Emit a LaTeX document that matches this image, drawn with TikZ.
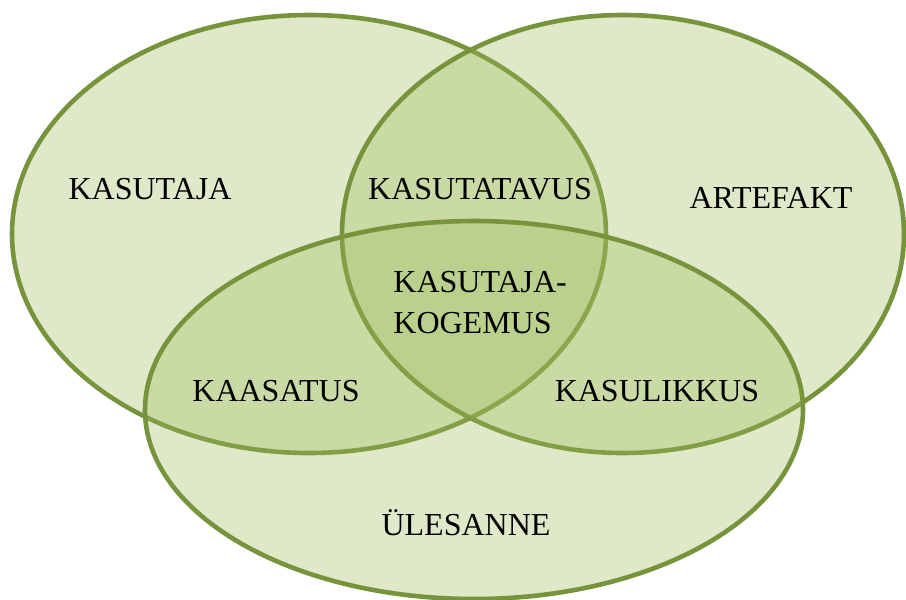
\documentclass[tikz,border=0pt]{standalone}
\usepackage{fontspec}
\setmainfont{Liberation Serif}
\usepackage{tikz}
\usetikzlibrary{positioning}
\definecolor{vline}{HTML}{77933C}
\definecolor{vfill}{HTML}{9BBB59}
\tikzset{
  set/.style={draw=vline, line width=2.3pt, fill=vfill, fill opacity=0.32},
  lab/.style={font=\fontsize{16}{20.5}\selectfont, text=black, inner sep=0pt}
}
\begin{document}
\begin{tikzpicture}[x=0.5pt, y=-0.5pt]
  \useasboundingbox (0,0) rectangle (906,600);
  % the three sets
  \draw[set] (309,234) ellipse [x radius=148.5pt, y radius=109.5pt];
  \draw[set] (623,234) ellipse [x radius=140.5pt, y radius=109.5pt];
  \draw[set] (474,410) ellipse [x radius=164.5pt, y radius=94.5pt];
  % labels
  \node[lab, anchor=base] (user) at (150,199) {KASUTAJA};
  \node[lab, anchor=base] (usab) at (480,199) {KASUTATAVUS};
  \node[lab, anchor=base] (arte) at (771,208) {ARTEFAKT};
  \node[lab, anchor=base west, align=left] (ux) at (393,333) {KASUTAJA-\\KOGEMUS};
  \node[lab, anchor=base] (enga) at (276,401) {KAASATUS};
  \node[lab, anchor=base] (util) at (657,401) {KASULIKKUS};
  \node[lab, anchor=base] (task) at (466,535) {ÜLESANNE};
\end{tikzpicture}
\end{document}
